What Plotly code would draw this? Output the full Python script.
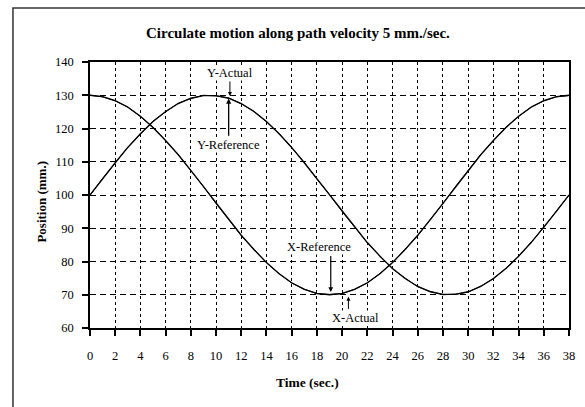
import plotly.graph_objects as go

# time (sec.)
t = list(range(0, 39))

# X position (mm.) – reference and actual
x_ref = [130.0, 129.6, 128.4, 126.4, 123.7, 120.3, 116.4, 112.1, 107.4, 102.5,
         97.5, 92.6, 87.9, 83.6, 79.7, 76.3, 73.6, 71.6, 70.4, 70.0,
         70.4, 71.6, 73.6, 76.3, 79.7, 83.6, 87.9, 92.6, 97.5, 102.5,
         107.4, 112.1, 116.4, 120.3, 123.7, 126.4, 128.4, 129.6, 130.0]
x_act = [130.0, 129.5, 128.3, 126.5, 123.6, 120.4, 116.3, 112.2, 107.3, 102.6,
         97.4, 92.7, 87.8, 83.7, 79.6, 76.4, 73.5, 71.7, 70.3, 70.1,
         70.3, 71.7, 73.5, 76.4, 79.6, 83.7, 87.8, 92.7, 97.4, 102.6,
         107.3, 112.2, 116.3, 120.4, 123.6, 126.5, 128.3, 129.5, 129.9]

# Y position (mm.) – reference and actual
y_ref = [100.0, 104.9, 109.7, 114.3, 118.4, 122.1, 125.1, 127.5, 129.1, 129.9,
         129.9, 129.1, 127.5, 125.1, 122.1, 118.4, 114.3, 109.7, 104.9, 100.0,
         95.1, 90.3, 85.7, 81.6, 77.9, 74.9, 72.5, 70.9, 70.1, 70.1,
         70.9, 72.5, 74.9, 77.9, 81.6, 85.7, 90.3, 95.1, 100.0]
y_act = [100.0, 105.0, 109.6, 114.4, 118.3, 122.2, 125.0, 127.6, 129.0, 130.0,
         129.8, 129.2, 127.4, 125.2, 122.0, 118.5, 114.2, 109.8, 104.8, 100.1,
         95.0, 90.4, 85.6, 81.7, 77.8, 75.0, 72.4, 71.0, 70.0, 70.2,
         70.8, 72.6, 74.8, 78.0, 81.5, 85.8, 90.2, 95.2, 99.9]

x_ticks = list(range(0, 39, 2))
y_ticks = list(range(60, 141, 10))

title = "Circulate motion along path velocity 5 mm./sec."
x_title = "Time (sec.)"
y_title = "Position (mm.)"

FONT = "Liberation Serif, Times New Roman, serif"

fig = go.Figure()
for name, ys, w in [("X-Reference", x_ref, 1.3), ("X-Actual", x_act, 1.0),
                    ("Y-Reference", y_ref, 1.3), ("Y-Actual", y_act, 1.0)]:
    fig.add_trace(go.Scatter(x=t, y=ys, mode="lines", name=name,
                             line=dict(color="black", width=w), showlegend=False))

fig.update_layout(
    width=585, height=407,
    margin=dict(l=90, r=10, t=62, b=79),
    paper_bgcolor="white", plot_bgcolor="white",
    font=dict(family=FONT, color="black", size=11),
    showlegend=False,
)

fig.update_xaxes(range=[0, 38], tickvals=x_ticks, ticktext=[str(v) for v in x_ticks],
                 showline=True, linecolor="black", linewidth=1.5, mirror=True,
                 ticks="outside", ticklen=6, tickcolor="black", tickwidth=1.5,
                 ticklabelstandoff=9,
                 showgrid=True, gridcolor="black", gridwidth=1, griddash="3px,3px",
                 zeroline=False, tickfont=dict(family=FONT, size=12.5, color="black"))
fig.update_yaxes(range=[60, 140], tickvals=y_ticks, ticktext=[str(v) for v in y_ticks],
                 showline=True, linecolor="black", linewidth=1.5, mirror=True,
                 ticks="outside", ticklen=6, tickcolor="black", tickwidth=1.5,
                 ticklabelstandoff=6,
                 showgrid=True, gridcolor="black", gridwidth=1.2, griddash="6px,4px",
                 zeroline=False, tickfont=dict(family=FONT, size=12.5, color="black"))

# outer frame
fig.add_shape(type="rect", xref="paper", yref="paper",
              x0=(12 - 90) / 485, x1=(600 - 90) / 485,
              y0=-(420 - 328) / 266, y1=1 + (62 - 8) / 266,
              line=dict(color="#333", width=1.5), fillcolor="rgba(0,0,0,0)", layer="below")

# titles
fig.add_annotation(text="<b>" + title + "</b>", xref="paper", yref="paper",
                   x=(301 - 90) / 485, y=1 + (62 - 33) / 266, showarrow=False,
                   font=dict(family=FONT, size=15, color="black"), xanchor="center", yanchor="middle")
fig.add_annotation(text="<b>" + x_title + "</b>", xref="paper", yref="paper",
                   x=(310 - 90) / 485, y=-(382 - 328) / 266, showarrow=False,
                   font=dict(family=FONT, size=13.5, color="black"), xanchor="center", yanchor="middle")
fig.add_annotation(text="<b>" + y_title + "</b>", xref="paper", yref="paper",
                   x=(40 - 90) / 485, y=1 - (202 - 62) / 266, showarrow=False, textangle=-90,
                   font=dict(family=FONT, size=13, color="black"), xanchor="center", yanchor="middle")

# callouts
ann_font = dict(family=FONT, size=12.5, color="black")
lab = dict(showarrow=False, font=ann_font, bgcolor="white", borderpad=0)
arr = dict(axref="x", ayref="y", showarrow=True, arrowhead=2, arrowsize=0.8, arrowcolor="black")
fig.add_annotation(text="", x=11.1, y=129.8, ax=11.1, ay=134.6, arrowwidth=1, **arr)
fig.add_annotation(text="Y-Actual", x=11.1, y=136.8, **lab)
fig.add_annotation(text="", x=11.0, y=129.0, ax=11.0, ay=117.4, arrowwidth=1.3, **arr)
fig.add_annotation(text="Y-Reference", x=11.0, y=115.0, **lab)
fig.add_annotation(text="", x=19.1, y=70.8, ax=19.1, ay=82.1, arrowwidth=1.2, **arr)
fig.add_annotation(text="X-Reference", x=18.2, y=84.4, **lab)
fig.add_annotation(text="", x=20.5, y=69.4, ax=20.5, ay=65.3, arrowwidth=1.0, **arr)
fig.add_annotation(text="X-Actual", x=21.1, y=63.0, **lab)

fig.write_html("out.html")
